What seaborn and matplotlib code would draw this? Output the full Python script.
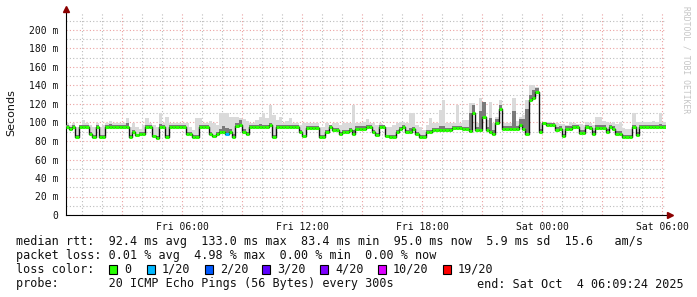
import numpy as np
import pandas as pd
import matplotlib
matplotlib.use("Agg")
import matplotlib.pyplot as plt
import matplotlib.dates as mdates
from matplotlib.ticker import FuncFormatter, MultipleLocator
from matplotlib.patches import Rectangle
import seaborn as sns

# ---------------- data (10-minute slots, ms) ----------------
median = [
    95, 93, 95, 84, 95, 95, 95, 88, 84, 95,
    84, 84, 95, 95, 95, 95, 95, 95, 95, 84,
    90, 86, 88, 88, 95, 95, 85, 83.5, 95, 95,
    84, 95, 95, 95, 95, 95, 88, 88, 84, 84,
    95, 95, 95, 88, 85, 88, 90, 90, 88, 90,
    84, 96, 97, 90, 88, 95, 95, 95, 95, 95,
    95, 97, 84, 95, 95, 95, 95, 95, 95, 95,
    90, 85, 94, 94, 94, 94, 84, 84, 90, 95,
    92, 92, 88, 90, 90, 92, 88, 93.5, 93.5, 93.5,
    95, 95, 90, 87, 95, 95, 85, 84, 84, 90,
    93, 95, 90, 90, 93, 88, 84, 84, 90, 90,
    91.5, 91.5, 91.5, 92, 92, 92, 93.7, 93.7, 93.7, 92.6,
    92.6, 91, 110, 92, 92, 106, 92, 90, 88, 99,
    115, 93, 93, 93, 93, 93, 97, 93, 88, 124,
    126, 133, 90, 99, 97, 97, 97, 92, 93, 85,
    93, 93, 95, 95, 89, 89, 95, 94, 88, 94.5,
    94.5, 94.5, 90, 95, 93, 88, 88, 84, 84, 84,
    95, 87, 95, 95, 95, 95, 95, 95, 95, 95,
]

smoke_hi = [
    100, 97, 100, 95, 97, 103, 100, 97, 95, 100,
    95, 97, 99.5, 102, 99.5, 99, 99.5, 99, 105, 95,
    99, 95, 93, 97, 105, 99.5, 97, 95, 110, 99,
    106, 99.5, 99.5, 99.5, 99.5, 99, 100, 95, 92, 105,
    105, 99, 99, 102, 99, 97, 110, 110, 110, 106,
    106, 106, 105, 104, 102, 100, 100, 103, 106, 110,
    105, 119, 108, 103, 106, 100, 102, 105, 100, 100,
    97, 99, 100, 100, 99, 99, 95, 95, 99, 97,
    100, 99, 97, 99, 100, 99, 119, 100, 100, 101,
    104, 100, 99, 97, 99, 97, 95, 95, 97, 99,
    101, 101, 99, 110, 110, 97, 95, 92, 97, 105,
    99, 99, 113, 124, 100, 99, 100, 119, 100, 103,
    103, 121, 121, 100, 126, 110, 103, 122, 100, 106,
    124, 100, 100, 100, 126, 102, 106, 108, 124, 140,
    140, 138, 100, 101, 101, 101, 100, 99, 98, 98,
    97, 101, 99, 98, 98, 97, 101, 100, 97, 106,
    106, 102, 101, 100, 101, 98, 101, 94, 93, 93,
    110, 101, 101, 101, 101, 101, 102, 101, 110, 101,
]

smoke_mid = [
    97, 95, 97, 86, 97, 97, 97, 90, 86, 97,
    86, 86, 97, 98, 97, 97, 97, 97, 99, 86,
    92, 88, 90, 90, 97, 97, 87, 85.5, 98, 97,
    86, 97, 97, 97, 97, 97, 90, 90, 86, 86,
    97, 97, 97, 90, 87, 90, 93, 96, 94, 93,
    88, 100, 103, 93, 90, 97, 97, 97, 98, 97,
    97, 100, 86, 97, 97, 97, 97, 97, 97, 97,
    92, 87, 96, 96, 96, 96, 86, 86, 92, 97,
    94, 94, 90, 92, 92, 94, 92, 96, 96, 96,
    97, 97, 92, 89, 97, 97, 87, 86, 86, 92,
    95, 97, 92, 94, 95, 90, 86, 86, 92, 92,
    94, 94, 96, 96, 94, 94, 96, 96, 96, 95,
    95, 110, 119, 95, 112, 122, 95, 105, 92, 104,
    119, 96, 96, 96, 112, 96, 104, 104, 115, 130,
    135, 137, 93, 101, 99, 99, 99, 95, 96, 88,
    96, 96, 97, 97, 92, 92, 97, 96, 91, 97,
    97, 97, 93, 97, 96, 91, 91, 86, 86, 86,
    97, 90, 97, 97, 97, 97, 97, 97, 98, 97,
]

loss_slots = [48]          # slot index with packet loss
loss_levels = [1]          # index into loss legend (1/20)

loss_labels = ["0", "1/20", "2/20", "3/20", "4/20", "10/20", "19/20"]
loss_colors = ["#26ff00", "#00b8ff", "#0059ff", "#5e00ff", "#7e00ff", "#dd00ff", "#ff0000"]

stats_lines = [
    "median rtt:  92.4 ms avg  133.0 ms max  83.4 ms min  95.0 ms now  5.9 ms sd  15.6   am/s",
    "packet loss: 0.01 % avg  4.98 % max  0.00 % min  0.00 % now",
]
probe_text = "probe:       20 ICMP Echo Pings (56 Bytes) every 300s"
end_text = "end: Sat Oct  4 06:09:24 2025"

# ---------------- figure ----------------
sns.set_theme(style="white")
plt.rcParams["font.family"] = ["DejaVu Sans Mono", "DejaVu Sans"]

W, H = 697, 297
fig = plt.figure(figsize=(W / 100, H / 100), dpi=100)
fig.patch.set_facecolor("white")
ax = fig.add_axes([65.5 / W, (H - 215) / H, 600 / W, 202 / H])
ax.set_facecolor("white")

start = pd.Timestamp("2025-10-03 00:09:24")
n = len(median)
edges = pd.date_range(start, periods=n + 1, freq="10min")
xe = mdates.date2num(edges.to_pydatetime())

med = np.array(median, dtype=float)
hi = np.array(smoke_hi, dtype=float)
mid = np.array(smoke_mid, dtype=float)
med_e = np.append(med, med[-1])
hi_e = np.append(hi, hi[-1])
mid_e = np.append(mid, mid[-1])

# smoke
ax.fill_between(xe, med_e, hi_e, step="post", color="#dadada", lw=0, zorder=2)
ax.fill_between(xe, med_e, mid_e, step="post", color="#7a7a7a", lw=0, zorder=3)

# median line (black step) via seaborn
df = pd.DataFrame({"t": xe, "rtt": med_e})
sns.lineplot(data=df, x="t", y="rtt", drawstyle="steps-post", color="#111111",
             lw=1.0, ax=ax, estimator=None, zorder=4)

# loss-coloured median segments
seg_colors = [loss_colors[0]] * n
for s, lv in zip(loss_slots, loss_levels):
    seg_colors[s] = loss_colors[lv]
ax.hlines(med, xe[:-1], xe[1:], colors=seg_colors, lw=2.2, zorder=5)

# axes ranges
ax.set_xlim(xe[0], xe[-1])
ax.set_ylim(0, 202 / 0.925)

# ticks & grid
ax.xaxis.set_major_locator(mdates.HourLocator(byhour=range(0, 24, 3)))
ax.xaxis.set_minor_locator(mdates.HourLocator())


def xfmt(v, pos):
    d = mdates.num2date(v)
    return d.strftime("%a %H:%M") if d.hour % 6 == 0 else ""


ax.xaxis.set_major_formatter(FuncFormatter(xfmt))
ax.yaxis.set_major_locator(MultipleLocator(20))
ax.yaxis.set_minor_locator(MultipleLocator(10))
ax.yaxis.set_major_formatter(FuncFormatter(lambda v, p: "0" if v == 0 else f"{v:.0f} m"))

ax.set_axisbelow(True)
ax.grid(which="major", color="#eba0a0", linestyle=(0, (1, 2)), lw=0.8, zorder=0)
ax.grid(which="minor", color="#bcbcbc", linestyle=(0, (1, 2)), lw=0.8, zorder=0)
ax.tick_params(axis="both", which="both", direction="out", length=2, width=0.7,
               color="#333333", labelsize=7, labelcolor="#111111", pad=3)
ax.tick_params(axis="both", which="minor", length=1.5)
for lab in ax.get_xticklabels() + ax.get_yticklabels():
    lab.set_family("DejaVu Sans Mono")

ax.set_xlabel("")
ax.set_ylabel("")
for side in ("top", "right"):
    ax.spines[side].set_visible(False)
for side in ("left", "bottom"):
    ax.spines[side].set_color("black")
    ax.spines[side].set_linewidth(0.8)

# arrows
ax.plot([1.008], [0], marker=">", color="#8b0000", ms=4, transform=ax.transAxes,
        clip_on=False, zorder=10)
ax.plot([0], [1.018], marker="^", color="#8b0000", ms=4, transform=ax.transAxes,
        clip_on=False, zorder=10)

# labels
fig.text(11 / W, 1 - 113 / H, "Seconds", rotation=90, family="DejaVu Sans",
         size=8, ha="center", va="center", color="#111111")
fig.text(686 / W, 1 - 60 / H, "RRDTOOL / TOBI OETIKER", rotation=270,
         size=5.8, ha="center", va="center", color="#c4c4c4",
         family="DejaVu Sans Mono")

# bottom legend / stats
fs = 8.5
fig.text(16 / W, 1 - 241 / H, stats_lines[0], size=fs, ha="left", va="center",
         family="DejaVu Sans Mono", color="#111111")
fig.text(16 / W, 1 - 255.5 / H, stats_lines[1], size=fs, ha="left", va="center",
         family="DejaVu Sans Mono", color="#111111")
fig.text(16 / W, 1 - 269.5 / H, "loss color:", size=fs, ha="left", va="center",
         family="DejaVu Sans Mono", color="#111111")
box_x = [109, 147, 205, 262, 320, 378, 443]
for bx, c, lab in zip(box_x, loss_colors, loss_labels):
    fig.add_artist(Rectangle((bx / W, 1 - 274 / H), 8 / W, 9 / H,
                             transform=fig.transFigure, fc=c, ec="black", lw=0.8))
    fig.text((bx + 15) / W, 1 - 269.5 / H, lab, size=fs, ha="left", va="center",
             family="DejaVu Sans Mono", color="#111111")
fig.text(16 / W, 1 - 284 / H, probe_text, size=fs, ha="left", va="center",
         family="DejaVu Sans Mono", color="#111111")
fig.text(477 / W, 1 - 284 / H, end_text, size=fs, ha="left", va="center",
         family="DejaVu Sans Mono", color="#111111")

fig.savefig("out.png", dpi=100, facecolor="white")
